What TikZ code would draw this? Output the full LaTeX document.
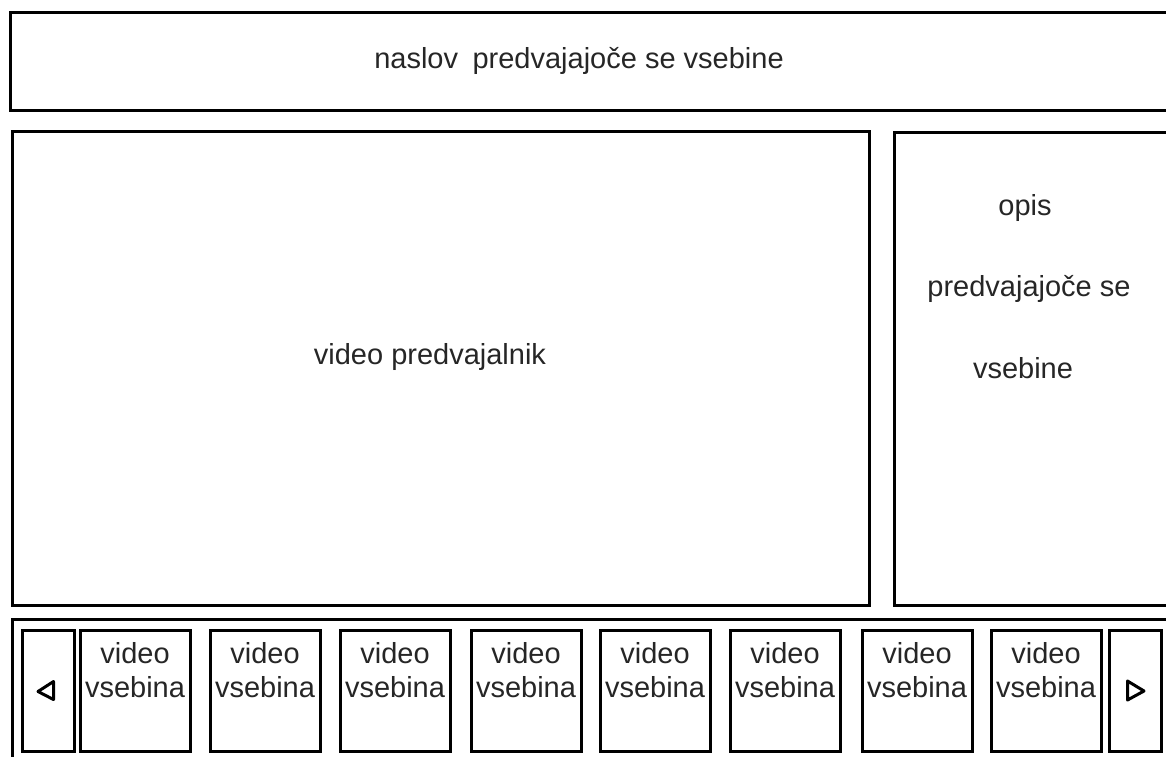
\documentclass[tikz,border=0pt]{standalone}
\usepackage{fontspec}
\setmainfont{Liberation Sans}
\begin{document}
\begin{tikzpicture}[x=1pt,y=-1pt,
  frame/.style={draw=black, line width=3pt, rectangle, inner sep=0pt, fill=none},
  lbl/.style={font=\fontsize{29}{34}\selectfont, text=black!85, inner sep=0pt, anchor=base},
  arrowtri/.style={draw=black, line width=3pt, line join=round}
]
\useasboundingbox (0,0) rectangle (1166,756);
% top title bar
\node[frame, minimum width=1170pt, minimum height=98pt] (titlebar) at (595,61) {};
\node[lbl] (title) at (579,68) {naslov\hspace{0.5em}predvajajoče se vsebine};
% video player
\node[frame, minimum width=857pt, minimum height=474pt] (player) at (440.5,368) {};
\node[lbl] (playertext) at (430,364) {video predvajalnik};
% description
\node[frame, minimum width=286pt, minimum height=473pt] (desc) at (1037,368.5) {};
\node[lbl] (desc1) at (1025,215) {opis};
\node[lbl] (desc2) at (1029,296) {predvajajoče se};
\node[lbl] (desc3) at (1023,378) {vsebine};
% bottom strip
\node[frame, minimum width=1168pt, minimum height=151pt] (strip) at (596,694.5) {};
% arrow boxes
\node[frame, minimum width=52pt, minimum height=121pt] (leftbtn) at (48,690.5) {};
\node[frame, minimum width=52pt, minimum height=121pt] (rightbtn) at (1135,690.5) {};
\draw[arrowtri] ([xshift=5.5pt,yshift=-9pt]leftbtn.center) -- ([xshift=5.5pt,yshift=9pt]leftbtn.center) -- ([xshift=-10pt,yshift=-1pt]leftbtn.center) -- cycle;
\draw[arrowtri] ([xshift=-7.5pt,yshift=-9.5pt]rightbtn.center) -- ([xshift=-7.5pt,yshift=9.5pt]rightbtn.center) -- ([xshift=9pt,yshift=-0.5pt]rightbtn.center) -- cycle;
% video items
\foreach \L [count=\i] in {80,210,340,471,600,730,862,991} {
  \node[frame, minimum width=110pt, minimum height=121pt] (item\i) at (\L+55,690.5) {};
  \node[lbl] (item\i a) at (\L+55,663) {video};
  \node[lbl] (item\i b) at (\L+55,697) {vsebina};
}
\end{tikzpicture}
\end{document}
